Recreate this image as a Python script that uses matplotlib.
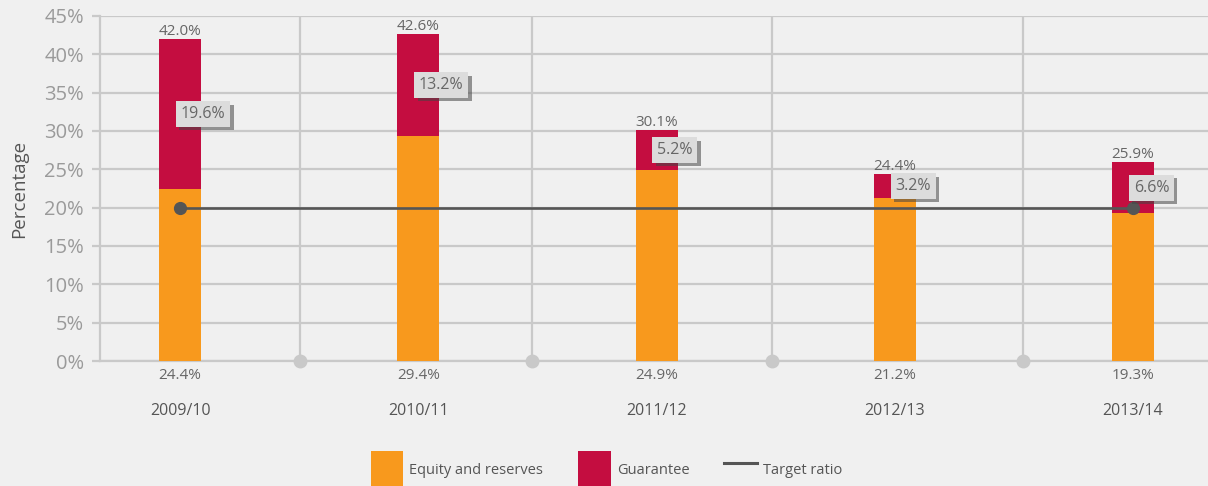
import matplotlib
matplotlib.use("Agg")
import matplotlib.pyplot as plt
import matplotlib.patheffects as pe
from matplotlib.patches import Patch
from matplotlib.lines import Line2D

# -----------------------------
# DATA
# -----------------------------
years = ["2009/10", "2010/11", "2011/12", "2012/13", "2013/14"]
equity = [22.4, 29.4, 24.9, 21.2, 19.3]          # drawn heights
equity_labels = ["24.4%", "29.4%", "24.9%", "21.2%", "19.3%"]
guarantee = [19.6, 13.2, 5.2, 3.2, 6.6]
totals = [42.0, 42.6, 30.1, 24.4, 25.9]
target = 20.0
separators = [0.504, 1.477, 2.485, 3.538]

# -----------------------------
# STYLE
# -----------------------------
bg = "#f0f0f0"
orange = "#f8991d"
crimson = "#c40d40"
grid_c = "#c9c9c9"
dark = "#555555"

plt.rcParams["font.family"] = ["Open Sans", "DejaVu Sans"]

fig = plt.figure(figsize=(12.08, 4.86), dpi=100, facecolor=bg)
ax = fig.add_axes([0.0828, 0.2572, 0.9172, 0.7099], facecolor=bg)

x = list(range(len(years)))
w = 42 / 238.25

ax.bar(x, equity, width=w, color=orange, zorder=3)
ax.bar(x, guarantee, width=w, bottom=equity, color=crimson, zorder=3)

# target ratio line
ax.plot([x[0], x[-1]], [target, target], color=dark, lw=1.9,
        marker="o", markersize=8.5, zorder=5, clip_on=False)

# separators with dots at the bottom
for s in separators:
    ax.axvline(s, color=grid_c, lw=1.6, zorder=1)
    ax.plot(s, 0, "o", color=grid_c, markersize=9, zorder=4, clip_on=False)

# labels
for i in x:
    ax.annotate(f"{totals[i]:.1f}%", (i, equity[i] + guarantee[i]),
                xytext=(0, 0), textcoords="offset points",
                ha="center", va="bottom", fontsize=11, color="#666666")
    ax.annotate(equity_labels[i], (i, 0), xytext=(0, -5),
                textcoords="offset points", ha="center", va="top",
                fontsize=11, color="#666666", annotation_clip=False)
    mid = equity[i] + guarantee[i] / 2
    t = ax.annotate(f"{guarantee[i]:.1f}%", (i, mid), xytext=(0.5, 0),
                    textcoords="offset points", ha="left", va="center",
                    fontsize=11.5, color="#666666", zorder=6,
                    bbox=dict(boxstyle="square,pad=0.3", fc="#dcdcdc", ec="none"))
    t.get_bbox_patch().set_path_effects(
        [pe.withSimplePatchShadow(offset=(2.5, -2.5), shadow_rgbFace="#444444", alpha=0.55),
         pe.Normal()])

# axes
ax.set_xlim(-0.336, 4.315)
ax.set_ylim(0, 45)
ax.set_yticks(range(0, 46, 5))
ax.set_yticklabels([f"{v}%" for v in range(0, 46, 5)])
ax.set_xticks(x)
ax.set_xticklabels(years)
ax.tick_params(axis="y", colors=grid_c, length=6, width=1.6, pad=5.5,
               labelsize=14.5, labelcolor="#9a9a9a")
ax.tick_params(axis="x", length=0, pad=30, labelsize=11.5, labelcolor=dark)
ax.yaxis.grid(True, color=grid_c, lw=1.6, zorder=0)
for side in ["top", "right"]:
    ax.spines[side].set_visible(False)
for side in ["left", "bottom"]:
    ax.spines[side].set_color(grid_c)
    ax.spines[side].set_linewidth(1.6)
ax.set_ylabel("Percentage", fontsize=13.5, color=dark, labelpad=12)

# legend
handles = [Patch(facecolor=orange, label="Equity and reserves"),
           Patch(facecolor=crimson, label="Guarantee"),
           Line2D([], [], color=dark, lw=2.2, label="Target ratio")]
leg = fig.legend(handles=handles, loc="center", bbox_to_anchor=(0.502, 0.033),
                 ncol=3, frameon=False, fontsize=10.5, labelcolor=dark,
                 handlelength=2.25, handleheight=3.6, handletextpad=0.4,
                 columnspacing=2.4, borderpad=0)

fig.savefig("out.png", dpi=100, facecolor=bg)
